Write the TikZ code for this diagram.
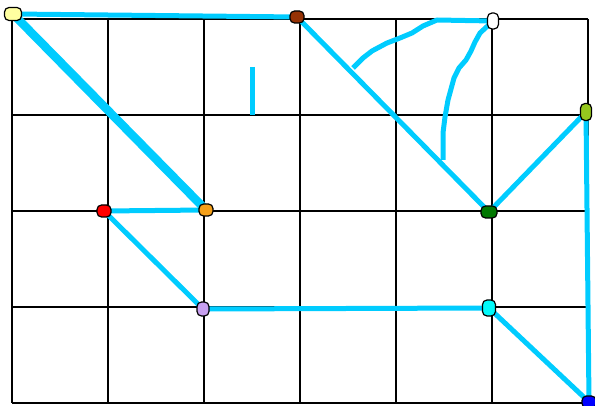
\documentclass[tikz,border=0pt]{standalone}
\usetikzlibrary{backgrounds}
\definecolor{wire}{RGB}{0,204,255}
\definecolor{paleyellow}{RGB}{255,255,160}
\definecolor{rust}{RGB}{150,50,5}
\definecolor{leaf}{RGB}{150,200,30}
\definecolor{amber}{RGB}{245,160,25}
\definecolor{darkgreen}{RGB}{0,120,0}
\definecolor{lilac}{RGB}{200,160,240}
\definecolor{aqua}{RGB}{0,250,250}
\tikzset{
  blob/.style={rectangle, rounded corners=4.5pt, draw=black, line width=1.2pt, inner sep=0pt},
  wireline/.style={draw=wire, line width=5pt},
  gridline/.style={draw=black, line width=1.4pt}
}
\begin{document}
\begin{tikzpicture}[x=1pt, y=-1pt]
  \useasboundingbox (0,0) rectangle (595,406);

  % junctions
  \node[blob, fill=paleyellow, minimum width=17pt, minimum height=13pt] (yellow) at (13,14) {};
  \node[blob, fill=rust, minimum width=14pt, minimum height=12pt] (brown) at (297,17) {};
  \node[blob, fill=white, minimum width=11pt, minimum height=16pt] (white) at (493,21) {};
  \node[blob, fill=leaf, minimum width=11pt, minimum height=17pt] (lime) at (586,112) {};
  \node[blob, fill=red, minimum width=14pt, minimum height=12pt] (red) at (104,211) {};
  \node[blob, fill=amber, minimum width=14pt, minimum height=12pt] (orange) at (206,210) {};
  \node[blob, fill=darkgreen, minimum width=16pt, minimum height=12pt] (green) at (489,212) {};
  \node[blob, fill=lilac, minimum width=12pt, minimum height=14pt] (lilac) at (203,309) {};
  \node[blob, fill=aqua, minimum width=13pt, minimum height=16pt] (cyan) at (489,308) {};
  \node[blob, fill=blue, minimum width=14pt, minimum height=12pt] (blue) at (589,402) {};

  \coordinate (stubtop) at (252,67);
  \coordinate (stubfoot) at (252,115);
  \coordinate (arcend) at (353,68);
  \coordinate (dropend) at (443,160);

  \begin{scope}[on background layer]
    % grid
    \foreach \x in {12,108,...,588}
      \draw[gridline] (\x,19) -- (\x,403);
    \foreach \y in {19,115,...,403}
      \draw[gridline] (12,\y) -- (588,\y);

    % wires
    \draw[wireline] (yellow.center) -- (brown.center);
    \draw[wire, line width=8.5pt] (yellow.center) -- (orange.center);
    \draw[wireline] (red.center) -- (orange.center);
    \draw[wireline] (red.center) -- (lilac.center);
    \draw[wireline] (lilac.center) -- (cyan.center);
    \draw[wireline] (cyan.center) -- (blue.center);
    \draw[wireline] (lime.center) -- (blue.center);
    \draw[wireline] (lime.center) -- (green.center);
    \draw[wireline] (brown.center) -- (green.center);
    \draw[wireline] (stubtop) -- (stubfoot);
    \draw[wireline, line join=round] (white.center) -- (437,20) -- (423,26) -- (412,33)
      -- (400,38) -- (387,43) -- (372,51) -- (363,58) -- (arcend);
    \draw[wireline, line join=round] (white.center) -- (480,33) -- (475,42) -- (471,51)
      -- (466,60) -- (459,68) -- (454,78) -- (448,100) -- (445,117) -- (443,133) -- (dropend);
  \end{scope}
\end{tikzpicture}
\end{document}
